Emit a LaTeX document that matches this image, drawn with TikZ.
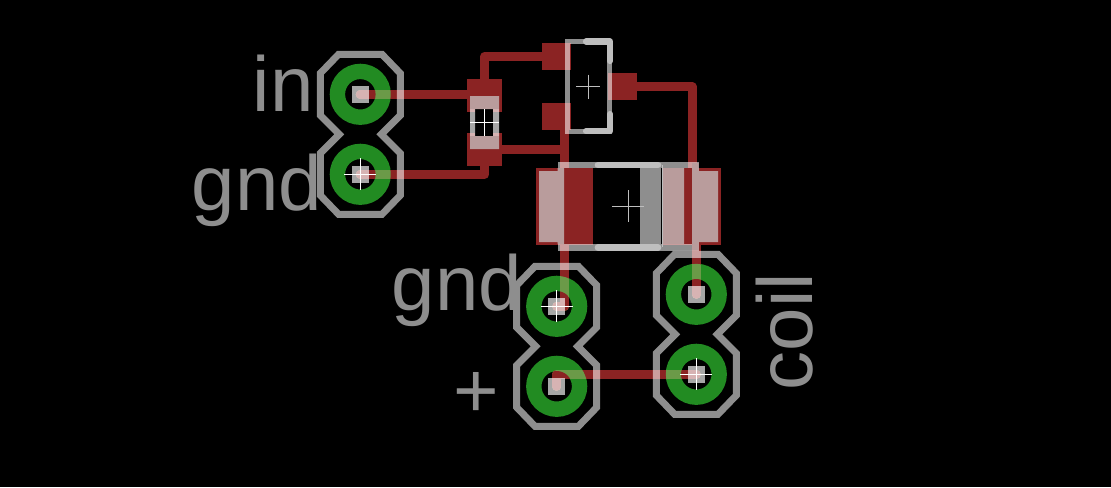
\documentclass[tikz,border=0pt]{standalone}
\usepackage{fontspec}
\setmainfont{Liberation Sans}
\usetikzlibrary{calc}
\definecolor{tracered}{HTML}{8B2323}
\definecolor{traceolive}{HTML}{6B9A48}
\definecolor{padgreen}{HTML}{228B22}
\definecolor{placegray}{HTML}{8E8E8E}
\definecolor{drillgray}{HTML}{A6A6A6}
\definecolor{silkgray}{HTML}{BEBEBE}
\definecolor{padpink}{HTML}{B99C9C}
\tikzset{
  trace/.style={line width=6.7pt,line cap=round,line join=round},
  outline/.style={draw=placegray,line width=5.2pt,line join=miter},
  silk/.style={draw=silkgray,line width=4.6pt,line cap=round,line join=round},
  crossmark/.style={line width=.8pt},
  textlabel/.style={text=placegray,inner sep=0,anchor=base west,font=\fontsize{58.5}{60}\selectfont}
}
\newcommand{\drawtraces}[1]{
  \draw [trace,#1] (a1) -- (h1);
  \draw [trace,#1] (a2) -- (h2) -- (h3);
  \draw [trace,#1] (h4) -- (h5) -- (q1);
  \draw [trace,#1] (h6) -- (h7);
  \draw [trace,#1] (q2) -- (h8) -- (h9) -- (b1);
  \draw [trace,#1] (q3) -- (h10) -- (h11);
  \draw [trace,#1] (h12) -- (c1);
  \draw [trace,#1] (b2) -- (h13) -- (c2);
}
\begin{document}
\begin{tikzpicture}[x=.75pt,y=-.75pt]
\useasboundingbox (0,0) rectangle (1111,487);
\fill [black] (0,0) rectangle (1111,487);
\coordinate (a1) at (360.3,94.3);
\coordinate (a2) at (360.3,174.3);
\coordinate (b1) at (556.7,306.3);
\coordinate (b2) at (556.7,386.3);
\coordinate (c1) at (696.3,294.3);
\coordinate (c2) at (696.3,374.3);
\coordinate (q1) at (556,56.5);
\coordinate (q2) at (556,116.5);
\coordinate (q3) at (623,86.7);
\coordinate (h1) at (484,94.3);
\coordinate (h2) at (484.7,174.3);
\coordinate (h3) at (484.7,160);
\coordinate (h4) at (484.7,85);
\coordinate (h5) at (484.7,56.5);
\coordinate (h6) at (484.7,149.5);
\coordinate (h7) at (564.5,149.5);
\coordinate (h8) at (564.5,116.5);
\coordinate (h9) at (564.5,306.3);
\coordinate (h10) at (692.2,86.7);
\coordinate (h11) at (692.2,170);
\coordinate (h12) at (696.3,240);
\coordinate (h13) at (556.7,374.3);
\foreach \p in {a1,a2,b1,b2,c1,c2}
  \draw [padgreen,line width=11.5pt] (\p) circle (22.9);
\fill [tracered] (467,79.3) rectangle (502,111.7);
\fill [tracered] (467,133.3) rectangle (502,166);
\fill [tracered] (542,43) rectangle (570.7,70);
\fill [tracered] (542,103) rectangle (570.7,130);
\fill [tracered] (608,73) rectangle (637,100);
\fill [tracered] (536,168) rectangle (593,245);
\fill [tracered] (663,168) rectangle (721,245);
\drawtraces{tracered}
\foreach \p in {a1,a2,b1,b2,c1,c2} {
  \begin{scope}
    \clip (\p) circle (30.4);
    \drawtraces{traceolive}
  \end{scope}
  \begin{scope}
    \clip (\p) circle (15.3);
    \drawtraces{tracered}
  \end{scope}
}
\fill [black] (475,109) rectangle (493,135.7);
\begin{scope}[blend mode=screen]
  \foreach \p in {a1,b1,c1}
    \draw [outline,shift={(\p)}] (-21.7,-40) -- (21.7,-40) -- (40,-21) -- (40,21) -- (21,40)
      -- (40,59) -- (40,101) -- (21.7,120) -- (-21.7,120) -- (-40,101) -- (-40,59)
      -- (-21,40) -- (-40,21) -- (-40,-21) -- cycle;
  \foreach \p in {a1,a2,b1,b2,c1,c2}
    \fill [drillgray] ($(\p)+(-8.7,-8.7)$) rectangle ($(\p)+(8.7,8.7)$);
  \fill [drillgray] (470,109) rectangle (475,136) (493,109) rectangle (499,136);
  \draw [outline,line width=3.5pt] (567.7,41.3) rectangle (609.7,131.3);
  \draw [outline,line width=4.8pt] (560.7,165) rectangle (695.5,247.3);
  \fill [placegray] (640,168) rectangle (661,244);
\end{scope}
\fill [padpink] (470,96) rectangle (499,109) (470,136) rectangle (499,149);
\fill [padpink] (539,171) rectangle (564,242) (557.7,168) rectangle (564,244);
\fill [padpink] (663,168) rectangle (684,244) (692,163) rectangle (698.7,250)
  (698.7,171) rectangle (718,242);
\draw [silk] (586,41.5) -- (610,41.5) -- (610,61);
\draw [silk] (586,131.3) -- (610,131.3) -- (610,114);
\draw [silk,line width=5pt] (598,165) -- (658,165);
\draw [silk,line width=5pt] (598,247.3) -- (658,247.3);
\draw [silkgray,line width=1pt] (662.5,165) -- (662.5,247.3);
\foreach \p in {a2,b1,c2}
  \draw [white,crossmark] ($(\p)+(-16,0)$) -- ($(\p)+(16,0)$) ($(\p)+(0,-16)$) -- ($(\p)+(0,16)$);
\draw [white,crossmark] (470,122.3) -- (499,122.3) (484.3,109) -- (484.3,135.7);
\draw [silkgray,crossmark] (576.3,86.7) -- (600.3,86.7) (588.3,74.7) -- (588.3,98.7);
\draw [silkgray,crossmark] (612.3,206.3) -- (644.3,206.3) (628.3,190.3) -- (628.3,222.3);
\node [textlabel] at (252.5,111) (in) {in};
\node [textlabel] at (191.5,210) (gnda) {gnd};
\node [textlabel] at (391.5,310) (gndb) {gnd};
\node [textlabel] at (453,417) (plus) {+};
\node [textlabel,rotate=90] at (812,390.5) (coil) {coil};
\end{tikzpicture}
\end{document}
